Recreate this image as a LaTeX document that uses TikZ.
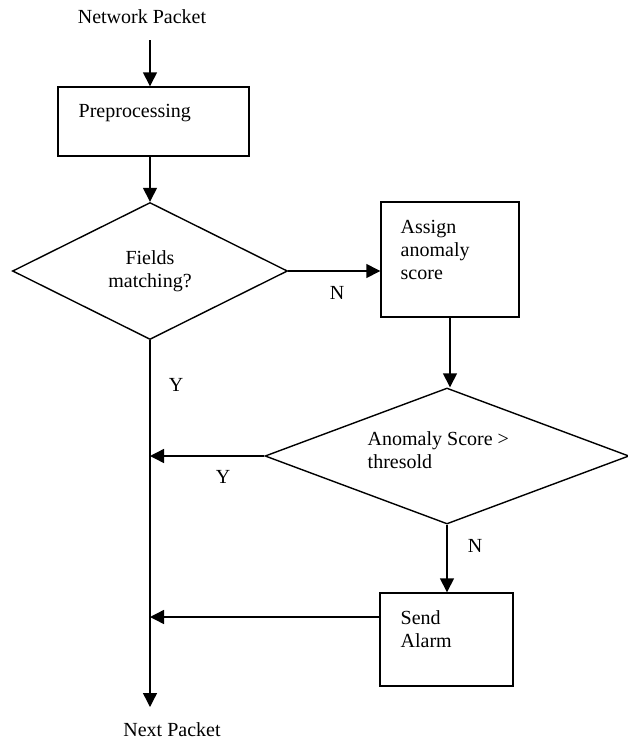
\documentclass[tikz,border=0pt]{standalone}
\usepackage{fontspec}
\setmainfont{Liberation Serif}
\usetikzlibrary{positioning,arrows.meta,shapes.geometric}

\begin{document}
\begin{tikzpicture}[x=1pt,y=-1pt,line width=1.4pt,
  >={Triangle[length=14pt,width=14pt]},
  every node/.style={font=\fontsize{20}{23}\selectfont,inner sep=0pt},
  stepbox/.style={rectangle,draw},
  decision/.style={diamond,draw,align=center},
  caption/.style={anchor=base west,align=left}]
  \path[use as bounding box] (0,0) rectangle (628,740);
  \node[anchor=base] (src) at (142,23) {Network Packet};
  \coordinate (start) at (150,40);
  \node[stepbox,minimum width=191,minimum height=69] (prep) at (153.5,121.5) {};
  \node[caption] (preptext) at (78,117) {Preprocessing};
  \node[decision,minimum width=275,minimum height=137] (fields) at (150,271) {Fields\\matching?};
  \node[stepbox,minimum width=138,minimum height=115] (assign) at (450,259.5) {};
  \node[caption] (assigntext) at (400,279) {Assign\\anomaly\\score};
  \node[decision,minimum width=364,minimum height=136] (check) at (447,456) {};
  \node[caption] (checktext) at (367,468) {Anomaly Score >\\thresold};
  \node[stepbox,minimum width=133,minimum height=93] (alarm) at (446.5,639.5) {};
  \node[caption] (alarmtext) at (400,647) {Send\\Alarm};
  \coordinate (end) at (150,707);
  \node[anchor=base] (dst) at (172,736) {Next Packet};

  \draw[->] (start) -- (start |- prep.north);
  \draw[->] (fields.north |- prep.south) -- (fields.north);
  \draw[->] (fields.east) -- (fields.east -| assign.west);
  \node (fieldsno) at (337,293) {N};
  \draw[->] (assign.south) -- (assign.south |- check.north);
  \draw[->] (fields.south) -- (end);
  \node (fieldsyes) at (176,385) {Y};
  \draw[->] (check.west) -- (check.west -| end);
  \node (checkyes) at (223,477) {Y};
  \draw[->] (check.south) -- (check.south |- alarm.north);
  \node (checkno) at (475,546) {N};
  \draw[->] ([yshift=22.5pt]alarm.west) -- ([yshift=22.5pt]alarm.west -| end);
\end{tikzpicture}
\end{document}
